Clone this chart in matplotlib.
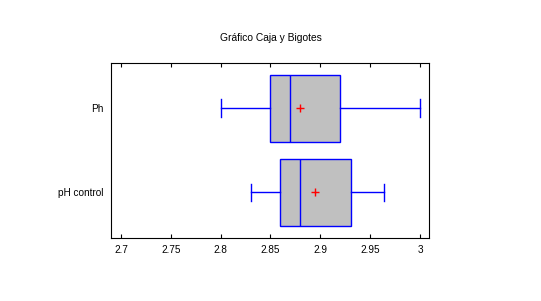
import matplotlib
matplotlib.use("Agg")
import matplotlib.pyplot as plt

categories = ["pH control", "Ph"]
whislo = [2.83, 2.80]
q1 = [2.86, 2.85]
med = [2.88, 2.87]
q3 = [2.931, 2.92]
whishi = [2.964, 3.00]
means = [2.895, 2.88]
xticks = [2.7, 2.75, 2.8, 2.85, 2.9, 2.95, 3.0]
xticklabels = ["2.7", "2.75", "2.8", "2.85", "2.9", "2.95", "3"]

plt.rcParams['font.family'] = ['Liberation Sans', 'DejaVu Sans']

fig = plt.figure(figsize=(5.41, 3.01), dpi=100)
ax = fig.add_axes([0.205, 0.209, 0.588, 0.582])

stats = []
for i in range(len(categories)):
    stats.append(dict(label=categories[i], whislo=whislo[i], q1=q1[i], med=med[i],
                      q3=q3[i], whishi=whishi[i], mean=means[i], fliers=[]))

blue = "#0000ff"
ax.bxp(stats, positions=[1, 2], vert=False, widths=0.8, capwidths=0.21,
       patch_artist=True, showmeans=True,
       boxprops=dict(facecolor="#c0c0c0", edgecolor=blue, linewidth=1.0),
       whiskerprops=dict(color=blue, linewidth=1.0),
       capprops=dict(color=blue, linewidth=1.0),
       medianprops=dict(color=blue, linewidth=1.0),
       meanprops=dict(marker="+", markeredgecolor="red", markersize=6, markeredgewidth=1.0))

ax.set_xlim(2.690, 3.009)
ax.set_ylim(0.456, 2.539)
ax.set_xticks(xticks)
ax.set_xticklabels(xticklabels, fontsize=7.2)
ax.set_yticks([1, 2])
ax.set_yticklabels(categories, fontsize=7.2)
ax.tick_params(axis='x', direction='in', top=True, length=3, width=0.8, pad=5)
ax.tick_params(axis='y', length=0, pad=5)
for s in ax.spines.values():
    s.set_linewidth(0.8)

fig.text(0.5, 0.874, "Gráfico Caja y Bigotes", ha="center", va="center", fontsize=7.4)

fig.savefig("out.png", dpi=100)
